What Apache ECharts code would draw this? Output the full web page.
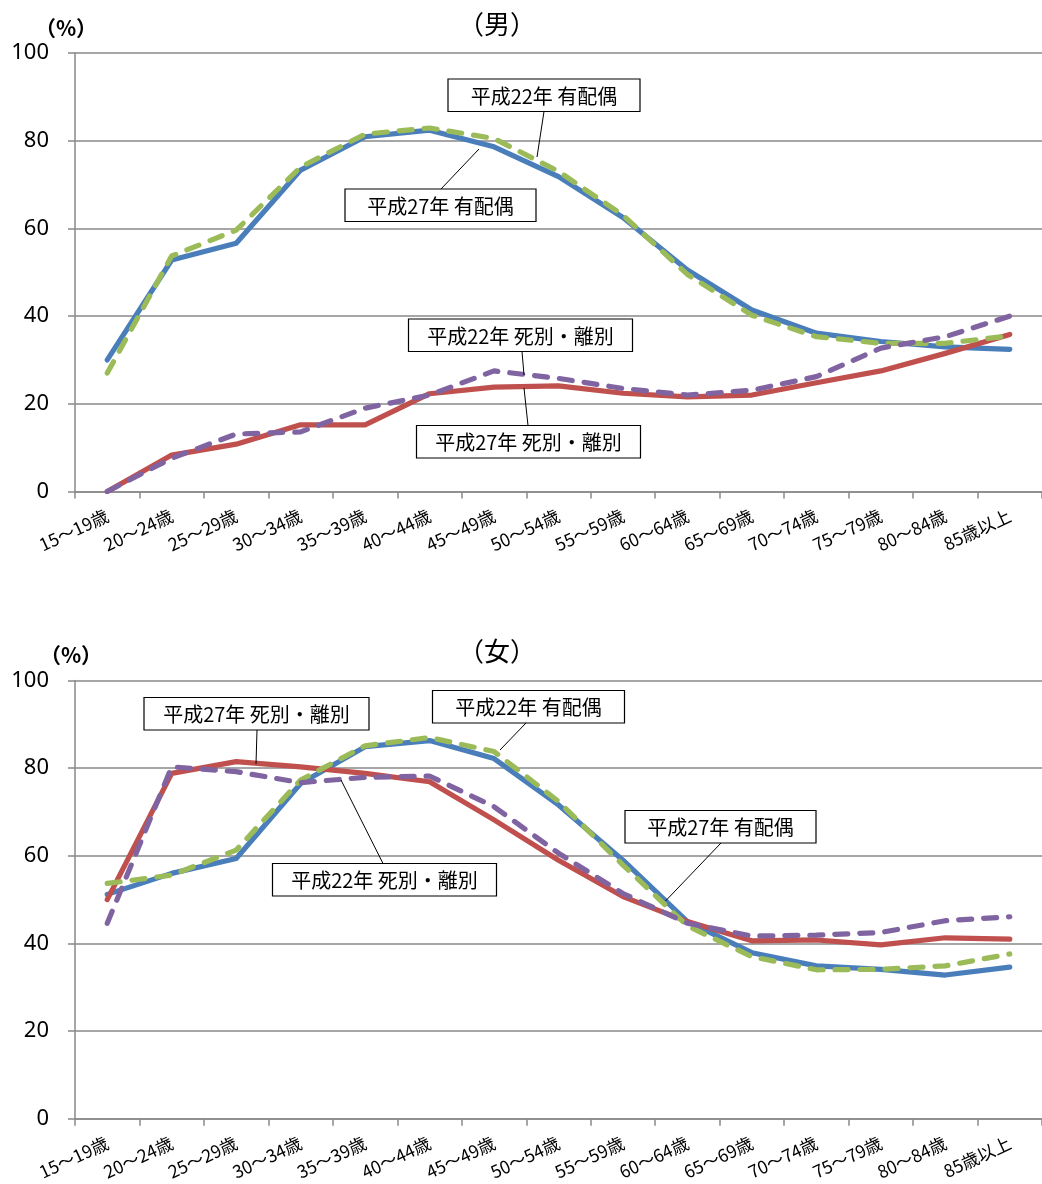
<!DOCTYPE html>
<html>
<head>
<meta charset="utf-8">
<script src="https://cdn.jsdelivr.net/npm/echarts@6/dist/echarts.min.js"></script>
<style>
html,body{margin:0;padding:0;background:#fff;}
#c{width:1042px;height:1184px;}
</style>
</head>
<body>
<div id="c"></div>
<script>
// ---- data ----
const categories = ['15〜19歳','20〜24歳','25〜29歳','30〜34歳','35〜39歳','40〜44歳','45〜49歳','50〜54歳','55〜59歳','60〜64歳','65〜69歳','70〜74歳','75〜79歳','80〜84歳','85歳以上'];
const yTicks = [0, 20, 40, 60, 80, 100];

const maleH27Married = [30.0, 52.8, 56.6, 73.3, 80.9, 82.4, 78.6, 71.8, 62.5, 50.5, 41.4, 36.1, 34.2, 33.0, 32.4];
const maleH22Married = [27.0, 53.7, 59.6, 74.0, 81.5, 82.9, 80.5, 73.0, 63.0, 49.5, 40.2, 35.3, 33.8, 33.8, 35.5];
const maleH27WidDiv  = [0, 8.3, 10.8, 15.2, 15.2, 22.3, 23.8, 24.1, 22.4, 21.6, 22.0, 24.8, 27.5, 31.5, 35.8];
const maleH22WidDiv  = [0, 7.6, 13.1, 13.6, 19.0, 22.0, 27.5, 25.8, 23.5, 22.0, 23.1, 26.2, 32.7, 35.3, 40.0];

const femaleH27Married = [51.2, 56.0, 59.4, 76.5, 84.9, 86.3, 82.2, 71.6, 59.0, 45.0, 37.9, 34.9, 34.1, 32.8, 34.6];
const femaleH22Married = [53.7, 55.6, 61.3, 77.3, 85.1, 87.0, 83.8, 72.4, 57.9, 44.0, 37.0, 34.0, 34.1, 34.9, 37.6];
const femaleH27WidDiv  = [50.0, 78.8, 81.5, 80.3, 78.8, 76.9, 68.2, 59.0, 50.7, 45.0, 40.6, 40.8, 39.7, 41.3, 41.0];
const femaleH22WidDiv  = [44.6, 80.3, 79.2, 76.7, 77.9, 78.2, 71.2, 60.6, 51.4, 44.6, 41.7, 41.9, 42.5, 45.2, 46.1];

const seriesNames = ['平成27年 有配偶', '平成27年 死別・離別', '平成22年 有配偶', '平成22年 死別・離別'];
const panelTitles = ['（男）', '（女）'];
const unitLabel = '（%）';

// ---- styles / layout ----
const COLORS = ['#4A7EBB', '#C0504D', '#9BBB59', '#8064A2'];
const DASHED = [false, false, true, true];
const GRID_COLOR = '#898989';
const CJK = '"Noto Sans CJK JP", "Noto Sans", sans-serif';
const NUM = '"Noto Sans", "Noto Sans CJK JP", sans-serif';

const grids = [
  {left: 75, top: 53, width: 971.5, height: 438.5},
  {left: 75, top: 680.5, width: 971.5, height: 438.3}
];

const panelData = [
  [maleH27Married, maleH27WidDiv, maleH22Married, maleH22WidDiv],
  [femaleH27Married, femaleH27WidDiv, femaleH22Married, femaleH22WidDiv]
];

// annotation boxes: [text, x, y, w, h, leader x1, y1, x2, y2]
const annotations = [
  ['平成22年 有配偶', 448, 79, 192, 32.5, 544, 111.5, 537, 157],
  ['平成27年 有配偶', 345, 189, 191, 32.5, 441, 189, 479, 149],
  ['平成22年 死別・離別', 408.5, 319, 224, 32.5, 522, 351.5, 524, 375],
  ['平成27年 死別・離別', 416.5, 425.5, 224, 32.5, 528, 425.5, 524, 388],
  ['平成27年 死別・離別', 144, 697.5, 225, 32.5, 257, 730, 256, 764],
  ['平成22年 有配偶', 432.5, 690.5, 192, 32.5, 526, 723, 500, 750],
  ['平成22年 死別・離別', 272.5, 863.5, 224, 32.5, 383, 863.5, 341, 780],
  ['平成27年 有配偶', 625, 810.5, 191, 32.5, 721, 843, 665.5, 901]
];

const xAxes = grids.map((g, i) => ({
  type: 'category', gridIndex: i, data: categories, boundaryGap: true,
  axisLine: {lineStyle: {color: GRID_COLOR, width: 1.5}},
  axisTick: {show: true, length: 7, alignWithLabel: false, interval: 0, lineStyle: {color: GRID_COLOR, width: 1.5}},
  axisLabel: {interval: 0, rotate: 25, margin: 23, fontSize: 17.5, color: '#000', fontFamily: CJK}
}));

const yAxes = grids.map((g, i) => ({
  type: 'value', gridIndex: i, min: yTicks[0], max: yTicks[yTicks.length - 1], interval: 20,
  axisLine: {show: true, lineStyle: {color: GRID_COLOR, width: 1.5}},
  axisTick: {show: true, length: 7, lineStyle: {color: GRID_COLOR, width: 1.5}},
  splitLine: {show: true, lineStyle: {color: GRID_COLOR, width: 1.5}},
  axisLabel: {margin: 26, fontSize: 22, color: '#000', fontFamily: NUM}
}));

const series = [];
panelData.forEach((arrs, gi) => {
  arrs.forEach((vals, si) => {
    series.push({
      name: seriesNames[si] + gi,
      type: 'line', xAxisIndex: gi, yAxisIndex: gi,
      data: vals, symbol: 'none', silent: true, animation: false,
      z: 2 + si,
      lineStyle: {
        color: COLORS[si], width: 5.2,
        type: DASHED[si] ? [13, 12] : 'solid',
        cap: 'round', join: 'round'
      }
    });
  });
});

const graphics = [];
[[66, 28], [71, 655]].forEach((p) => {
  graphics.push({type: 'text', x: p[0], y: p[1], z: 100,
    style: {text: unitLabel, fontSize: 21, fontFamily: CJK, fontWeight: 'bold', fill: '#000', textAlign: 'center', textVerticalAlign: 'middle'}});
});
[[497, 24], [497, 651]].forEach((p, i) => {
  graphics.push({type: 'text', x: p[0], y: p[1], z: 100,
    style: {text: panelTitles[i], fontSize: 26, fontFamily: CJK, fill: '#000', textAlign: 'center', textVerticalAlign: 'middle'}});
});
annotations.forEach(a => {
  const [t, x, y, w, h, x1, y1, x2, y2] = a;
  graphics.push({type: 'line', z: 100, shape: {x1, y1, x2, y2}, style: {stroke: '#000', lineWidth: 1}});
  graphics.push({type: 'rect', z: 101, shape: {x, y, width: w, height: h},
    style: {fill: '#fff', stroke: '#000', lineWidth: 1.2}});
  graphics.push({type: 'text', z: 102, x: x + w / 2, y: y + h / 2 + 1,
    style: {text: t, fontSize: 20, fontFamily: CJK, fill: '#000', textAlign: 'center', textVerticalAlign: 'middle'}});
});

const chart = echarts.init(document.getElementById('c'), null, {renderer: 'canvas'});
chart.setOption({
  animation: false,
  backgroundColor: '#fff',
  grid: grids,
  xAxis: xAxes,
  yAxis: yAxes,
  series: series,
  graphic: graphics
});
</script>
</body>
</html>
